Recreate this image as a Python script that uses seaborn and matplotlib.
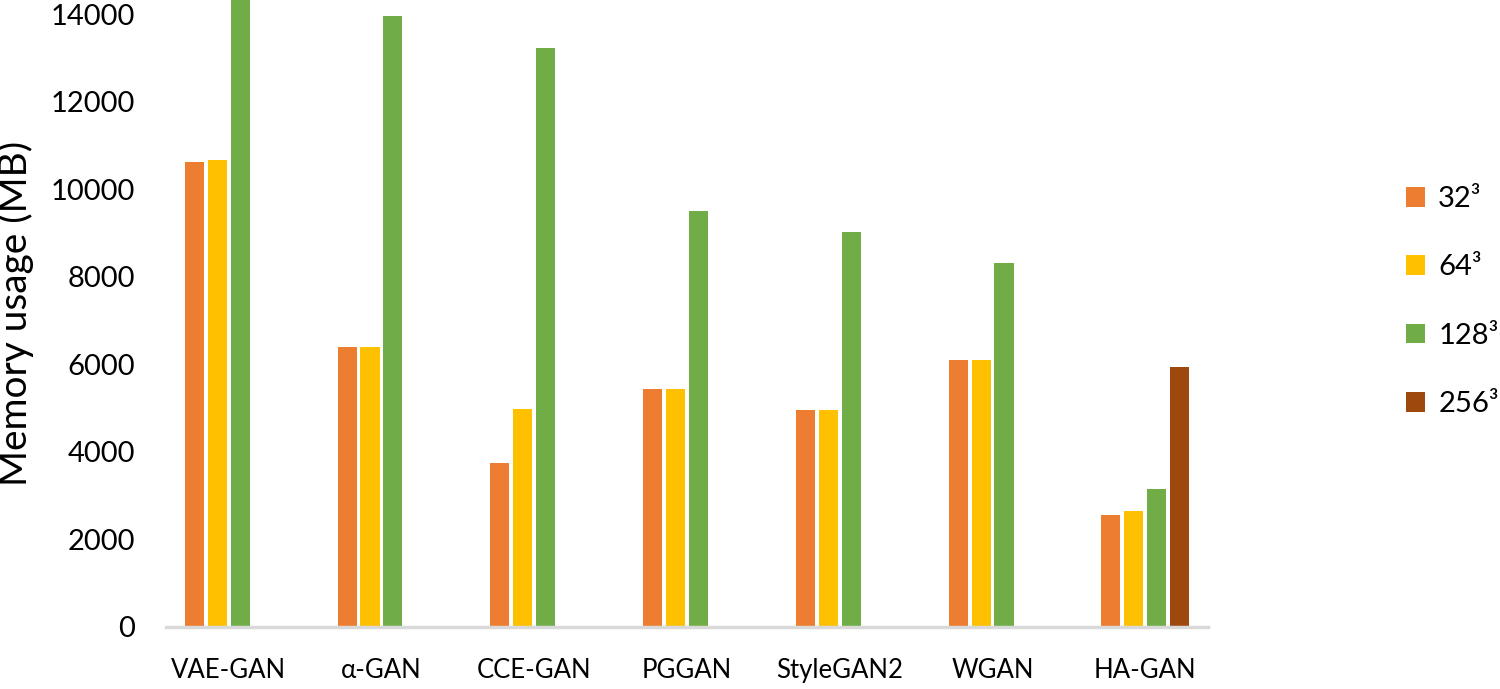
import pandas as pd
import numpy as np
import matplotlib
matplotlib.use("Agg")
import matplotlib.pyplot as plt
import seaborn as sns

# data (MB)
models = ['VAE-GAN', 'α-GAN', 'CCE-GAN', 'PGGAN', 'StyleGAN2', 'WGAN', 'HA-GAN']
sizes = ['32³', '64³', '128³', '256³']
mem_32 = [10630, 6400, 3750, 5430, 4960, 6100, 2560]
mem_64 = [10680, 6400, 4980, 5440, 4970, 6100, 2650]
mem_128 = [14700, 13970, 13230, 9510, 9030, 8320, 3150]
mem_256 = [None, None, None, None, None, None, 5940]
colors = ['#ED7D31', '#FFC000', '#70AD47', '#9E480E']


def main():
    rows = []
    for size, vals in zip(sizes, [mem_32, mem_64, mem_128, mem_256]):
        for m, v in zip(models, vals):
            if v is not None:
                rows.append({'Model': m, 'Size': size, 'Memory': v})
    df = pd.DataFrame(rows)

    sns.set_theme(style='white')
    plt.rcParams['font.family'] = ['Lato', 'DejaVu Sans']
    plt.rcParams['text.color'] = 'black'
    plt.rcParams['xtick.color'] = 'black'
    plt.rcParams['ytick.color'] = 'black'
    plt.rcParams['axes.labelcolor'] = 'black'

    fig = plt.figure(figsize=(15, 6.89), dpi=100)
    ax = fig.add_axes([0.1107, 0.09, 0.6946, 0.91])

    sns.barplot(data=df, x='Model', y='Memory', hue='Size',
                order=models, hue_order=sizes, palette=colors,
                width=0.6, gap=0.17, errorbar=None, saturation=1,
                linewidth=0, ax=ax)

    ax.set_xlim(-0.41, 6.41)
    ax.set_ylim(0, 14330)
    ax.set_yticks(np.arange(0, 14001, 2000))
    ax.set_xlabel('')
    ax.set_ylabel('Memory usage (MB)', fontsize=28, labelpad=12)
    ax.tick_params(axis='y', labelsize=21, length=0, pad=22)
    ax.tick_params(axis='x', labelsize=18.5, length=0, pad=22)

    for s in ['top', 'right', 'left']:
        ax.spines[s].set_visible(False)
    ax.spines['bottom'].set_color('#D9D9D9')
    ax.spines['bottom'].set_linewidth(2.5)

    handles, labels = ax.get_legend_handles_labels()
    ax.legend(handles, labels, loc='center left', bbox_to_anchor=(1.165, 0.519),
              frameon=False, fontsize=21, handlelength=0.65, handleheight=0.65,
              handletextpad=0.45, labelspacing=1.45)

    fig.savefig('out.png', dpi=100)


if __name__ == "__main__":
    main()
